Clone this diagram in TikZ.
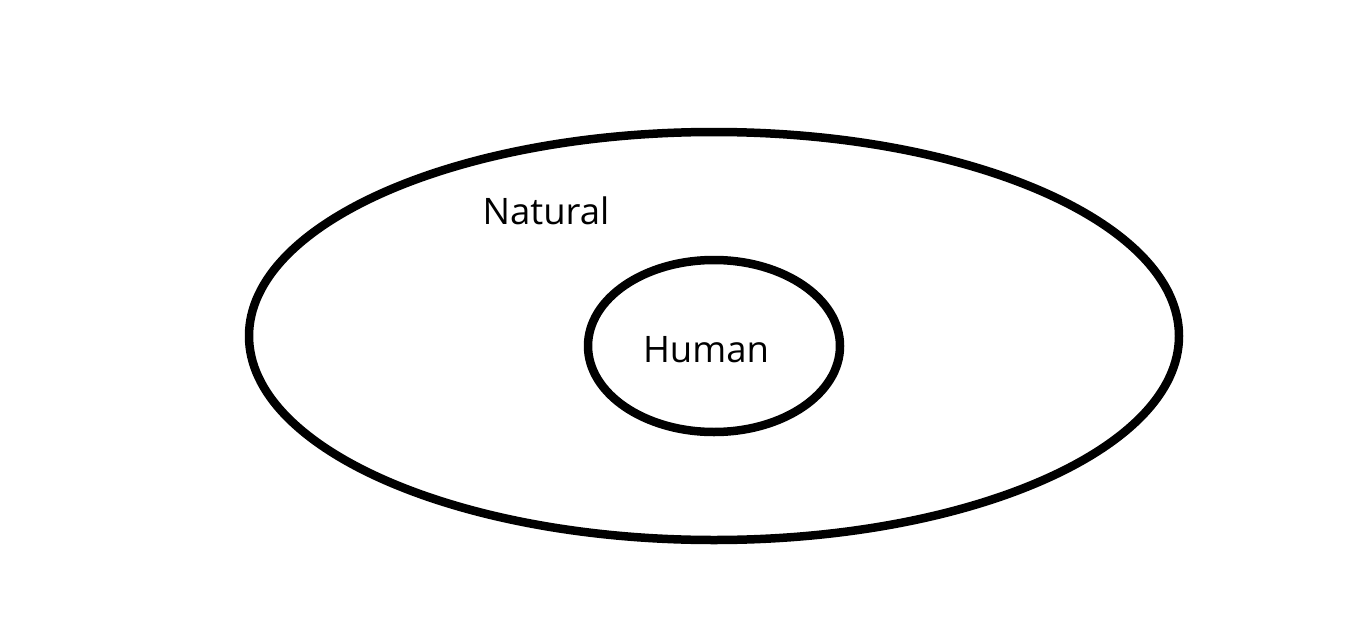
\documentclass[tikz,border=0pt]{standalone}
\usepackage{fontspec}
\setmainfont{Open Sans}
\begin{document}
\begin{tikzpicture}[x=1pt,y=-1pt,
  ring/.style={draw=black,line width=8.5pt},
  lbl/.style={font=\fontsize{36.5}{44}\selectfont,text=black,inner sep=0pt}]
\useasboundingbox[fill=white] (0,0) rectangle (1350,629);
\draw[ring] (714,336) ellipse [x radius=465, y radius=204];
\draw[ring] (714,346) ellipse [x radius=126, y radius=86];
\node[lbl] (natural) at (546,211) {Natural};
\node[lbl] (human) at (706,350) {Human};
\end{tikzpicture}
\end{document}
